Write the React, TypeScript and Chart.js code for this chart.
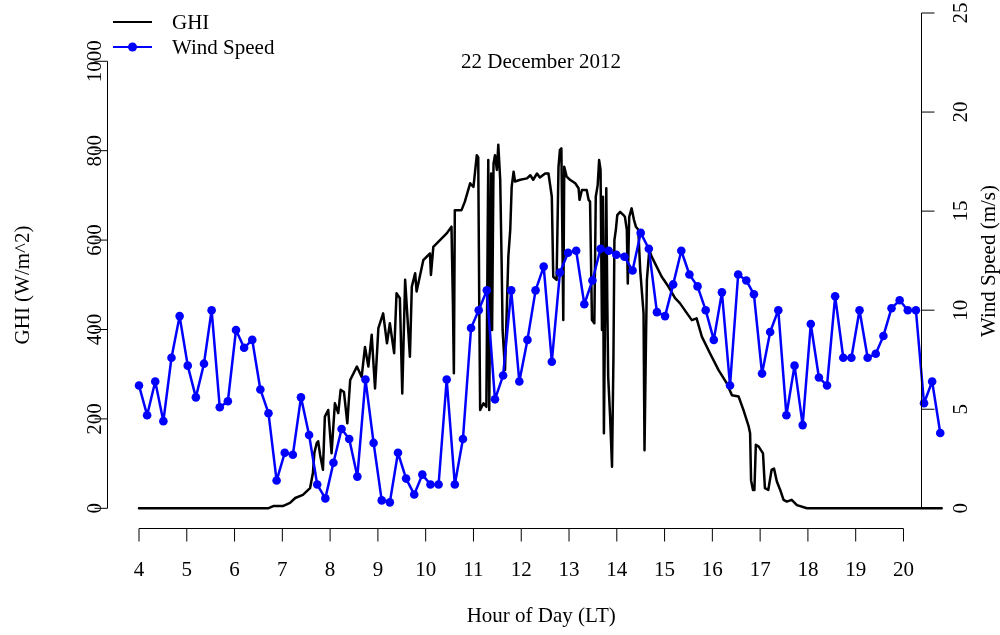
import React, { useEffect, useRef } from "react";
import { Chart, registerables } from "chart.js";

Chart.register(...registerables);

// ---- data ----
const chartTitle = "22 December 2012";
const xAxisTitle = "Hour of Day (LT)";
const leftAxisTitle = "GHI (W/m^2)";
const rightAxisTitle = "Wind Speed (m/s)";
const legendLabels = ["GHI", "Wind Speed"];

const xTickValues = [4, 5, 6, 7, 8, 9, 10, 11, 12, 13, 14, 15, 16, 17, 18, 19, 20];
const ghiTickValues = [0, 200, 400, 600, 800, 1000];
const windTickValues = [0, 5, 10, 15, 20, 25];

const ghiHours = [
  4.0, 6.7, 6.81, 7.01, 7.16, 7.27, 7.43, 7.58, 7.64, 7.67, 7.72, 7.75, 7.79, 7.85, 7.89, 7.96,
  8.03, 8.1, 8.17, 8.22, 8.29, 8.36, 8.42, 8.56, 8.66, 8.73, 8.8, 8.87, 8.94, 9.01, 9.11, 9.19,
  9.25, 9.34, 9.39, 9.46, 9.51, 9.57, 9.67, 9.71, 9.78, 9.81, 9.95, 10.09, 10.11, 10.16, 10.3,
  10.44, 10.54, 10.57, 10.59, 10.61, 10.75, 10.82, 10.93, 11.0, 11.07, 11.1, 11.12, 11.14, 11.21,
  11.27, 11.31, 11.33, 11.37, 11.39, 11.42, 11.45, 11.49, 11.52, 11.56, 11.59, 11.61, 11.66,
  11.73, 11.77, 11.8, 11.84, 11.87, 11.98, 12.12, 12.19, 12.25, 12.33, 12.39, 12.5, 12.57, 12.6,
  12.64, 12.67, 12.74, 12.78, 12.81, 12.84, 12.88, 12.9, 12.95, 13.02, 13.13, 13.2, 13.22, 13.27,
  13.37, 13.41, 13.44, 13.48, 13.53, 13.56, 13.6, 13.63, 13.66, 13.69, 13.71, 13.73, 13.78, 13.8,
  13.82, 13.86, 13.9, 13.93, 13.95, 13.98, 14.01, 14.07, 14.14, 14.17, 14.21, 14.23, 14.26, 14.31,
  14.36, 14.4, 14.45, 14.49, 14.56, 14.58, 14.61, 14.63, 14.68, 14.73, 14.8, 14.94, 15.08, 15.22,
  15.32, 15.47, 15.57, 15.67, 15.78, 15.95, 16.13, 16.3, 16.41, 16.55, 16.65, 16.76, 16.79, 16.81,
  16.85, 16.88, 16.91, 16.97, 17.06, 17.1, 17.17, 17.24, 17.29, 17.35, 17.42, 17.49, 17.56, 17.66,
  17.77, 17.98, 20.8,
];
const ghiValues = [
  0, 0, 5, 5, 12, 23, 30, 45, 79, 124, 146, 150, 120, 86, 205, 220,
  123, 235, 213, 265, 260, 190, 287, 317, 294, 361, 317, 388, 268, 403, 436, 369,
  414, 347, 481, 470, 257, 511, 339, 496, 526, 485, 555, 570, 522, 585, 600,
  615, 630, 459, 302, 667, 667, 686, 727, 719, 790, 785, 473, 220, 235,
  227, 779, 220, 749, 399, 771, 790, 757, 813, 735, 548, 399, 309,
  563, 623, 719, 753, 731, 735, 738, 745, 735, 749, 740, 749, 749, 727,
  697, 518, 511, 764, 802, 805, 421, 764, 742, 735, 727, 716, 690, 712,
  712, 690, 686, 421, 414, 697, 723, 779, 757, 399, 697, 168, 716, 473,
  294, 205, 93, 339, 600, 623, 656, 663, 656, 652, 623, 503, 652, 671,
  645, 630, 623, 533, 436, 130, 369, 511, 578, 563, 548, 518, 496, 470,
  459, 436, 421, 425, 384, 347, 309, 280, 253, 250, 220, 183, 168, 63,
  41, 41, 142, 138, 123, 45, 41, 86, 89, 60, 41, 19, 15, 19,
  7, 0, 0,
];

const windHours = [
  4.0, 4.17, 4.34, 4.51, 4.68, 4.85, 5.02, 5.19, 5.36, 5.52, 5.69, 5.86, 6.03, 6.2, 6.37, 6.54,
  6.71, 6.88, 7.05, 7.22, 7.39, 7.56, 7.73, 7.9, 8.07, 8.24, 8.4, 8.57, 8.74, 8.91, 9.08, 9.25,
  9.42, 9.59, 9.76, 9.93, 10.1, 10.27, 10.44, 10.61, 10.78, 10.95, 11.11, 11.28, 11.45, 11.62,
  11.79, 11.96, 12.13, 12.3, 12.47, 12.64, 12.81, 12.98, 13.15, 13.32, 13.49, 13.66, 13.83, 13.99,
  14.16, 14.33, 14.5, 14.67, 14.84, 15.01, 15.18, 15.35, 15.52, 15.69, 15.86, 16.03, 16.2, 16.37,
  16.54, 16.71, 16.87, 17.04, 17.21, 17.38, 17.55, 17.72, 17.89, 18.06, 18.23, 18.4, 18.57, 18.74,
  18.91, 19.08, 19.25, 19.42, 19.58, 19.75, 19.92, 20.09, 20.26, 20.43, 20.6, 20.77,
];
const windValues = [
  6.2, 4.7, 6.4, 4.4, 7.6, 9.7, 7.2, 5.6, 7.3, 10.0, 5.1, 5.4, 9.0, 8.1, 8.5, 6.0,
  4.8, 1.4, 2.8, 2.7, 5.6, 3.7, 1.2, 0.5, 2.3, 4.0, 3.5, 1.6, 6.5, 3.3, 0.4, 0.3,
  2.8, 1.5, 0.7, 1.7, 1.2, 1.2, 6.5, 1.2, 3.5, 9.1, 10.0, 11.0, 5.5, 6.7,
  11.0, 6.4, 8.5, 11.0, 12.2, 7.4, 11.9, 12.9, 13.0, 10.3, 11.5, 13.1, 13.0, 12.8,
  12.7, 12.0, 13.9, 13.1, 9.9, 9.7, 11.3, 13.0, 11.8, 11.2, 10.0, 8.5, 10.9, 6.2,
  11.8, 11.5, 10.8, 6.8, 8.9, 10.0, 4.7, 7.2, 4.2, 9.3, 6.6, 6.2, 10.7, 7.6,
  7.6, 10.0, 7.6, 7.8, 8.7, 10.1, 10.5, 10.0, 10.0, 5.3, 6.4, 3.8,
];

const FONT = '21px "Liberation Serif", "Times New Roman", serif';

const axesPlugin = {
  id: "rAxes",
  afterDraw(chart: any) {
    const ctx = chart.ctx as CanvasRenderingContext2D;
    const xs = chart.scales.x;
    const yl = chart.scales.yL;
    const yr = chart.scales.yR;
    ctx.save();
    ctx.strokeStyle = "#000";
    ctx.fillStyle = "#000";
    ctx.lineWidth = 1;
    ctx.font = FONT;

    // bottom axis
    const axY = 528.5;
    const x0 = xs.getPixelForValue(xTickValues[0]);
    const x1 = xs.getPixelForValue(xTickValues[xTickValues.length - 1]);
    ctx.beginPath();
    ctx.moveTo(x0, axY);
    ctx.lineTo(x1, axY);
    xTickValues.forEach((v) => {
      const px = xs.getPixelForValue(v);
      ctx.moveTo(px, axY);
      ctx.lineTo(px, axY + 13);
    });
    ctx.stroke();
    ctx.textAlign = "center";
    ctx.textBaseline = "alphabetic";
    xTickValues.forEach((v) => {
      ctx.fillText(String(v), xs.getPixelForValue(v), 576);
    });
    ctx.fillText(xAxisTitle, (x0 + x1) / 2 + 20, 622);

    // left axis
    const lx = 107.5;
    ctx.beginPath();
    ctx.moveTo(lx, yl.getPixelForValue(ghiTickValues[0]));
    ctx.lineTo(lx, yl.getPixelForValue(ghiTickValues[ghiTickValues.length - 1]));
    ghiTickValues.forEach((v) => {
      const py = yl.getPixelForValue(v);
      ctx.moveTo(lx, py);
      ctx.lineTo(lx - 13, py);
    });
    ctx.stroke();
    ghiTickValues.forEach((v) => {
      const py = yl.getPixelForValue(v);
      ctx.save();
      ctx.translate(101, py);
      ctx.rotate(-Math.PI / 2);
      ctx.fillText(String(v), 0, 0);
      ctx.restore();
    });
    ctx.save();
    ctx.translate(29, 285);
    ctx.rotate(-Math.PI / 2);
    ctx.fillText(leftAxisTitle, 0, 0);
    ctx.restore();

    // right axis
    const rx = 921.5;
    ctx.beginPath();
    ctx.moveTo(rx, yr.getPixelForValue(windTickValues[0]));
    ctx.lineTo(rx, yr.getPixelForValue(windTickValues[windTickValues.length - 1]));
    windTickValues.forEach((v) => {
      const py = yr.getPixelForValue(v);
      ctx.moveTo(rx, py);
      ctx.lineTo(rx + 13, py);
    });
    ctx.stroke();
    windTickValues.forEach((v) => {
      const py = yr.getPixelForValue(v);
      ctx.save();
      ctx.translate(967, py);
      ctx.rotate(-Math.PI / 2);
      ctx.fillText(String(v), 0, 0);
      ctx.restore();
    });
    ctx.save();
    ctx.translate(995, 261);
    ctx.rotate(-Math.PI / 2);
    ctx.fillText(rightAxisTitle, 0, 0);
    ctx.restore();

    // title
    ctx.fillText(chartTitle, 541, 68);

    // legend
    ctx.textAlign = "left";
    ctx.lineWidth = 2;
    ctx.strokeStyle = "#000";
    ctx.beginPath();
    ctx.moveTo(113, 22);
    ctx.lineTo(152, 22);
    ctx.stroke();
    ctx.fillText(legendLabels[0], 172, 29);
    ctx.strokeStyle = "#0000ff";
    ctx.fillStyle = "#0000ff";
    ctx.beginPath();
    ctx.moveTo(113, 47);
    ctx.lineTo(152, 47);
    ctx.stroke();
    ctx.beginPath();
    ctx.arc(132.5, 47, 4.5, 0, Math.PI * 2);
    ctx.fill();
    ctx.fillStyle = "#000";
    ctx.fillText(legendLabels[1], 172, 54);
    ctx.restore();
  },
};

export default function App() {
  const ref = useRef<HTMLCanvasElement | null>(null);
  useEffect(() => {
    if (!ref.current) return;
    const chart = new Chart(ref.current, {
      type: "line",
      data: {
        datasets: [
          {
            label: legendLabels[0],
            data: ghiHours.map((h, i) => ({ x: h, y: ghiValues[i] })),
            borderColor: "#000000",
            borderWidth: 2.5,
            borderJoinStyle: "round",
            borderCapStyle: "round",
            pointRadius: 0,
            tension: 0,
            yAxisID: "yL",
            order: 1,
            clip: false as any,
          },
          {
            label: legendLabels[1],
            data: windHours.map((h, i) => ({ x: h, y: windValues[i] })),
            borderColor: "#0000ff",
            backgroundColor: "#0000ff",
            borderWidth: 2.5,
            borderJoinStyle: "round",
            borderCapStyle: "round",
            pointRadius: 4.3,
            pointBorderWidth: 0,
            pointBackgroundColor: "#0000ff",
            tension: 0,
            yAxisID: "yR",
            order: 0,
            clip: false as any,
          },
        ],
      },
      options: {
        responsive: false,
        animation: false,
        devicePixelRatio: 1,
        layout: { padding: { left: 139, right: 58.3, top: 13, bottom: 126.7 } },
        plugins: { legend: { display: false }, tooltip: { enabled: false }, title: { display: false } },
        events: [],
        scales: {
          x: { type: "linear", min: 4, max: 20.8, display: false },
          yL: { type: "linear", position: "left", min: 0, max: 1108, display: false },
          yR: { type: "linear", position: "right", min: 0, max: 25, display: false },
        },
      },
      plugins: [axesPlugin],
    });
    return () => chart.destroy();
  }, []);
  return (
    <div style={{ position: "absolute", left: 0, top: 0, width: 1000, height: 635, background: "#fff" }}>
      <canvas ref={ref} width={1000} height={635} style={{ display: "block" }} />
    </div>
  );
}
